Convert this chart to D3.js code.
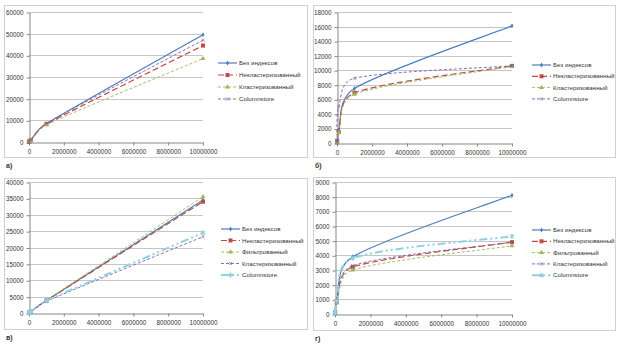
<!DOCTYPE html>
<html>
<head>
<meta charset="utf-8">
<title>chart</title>
<style>
  body { margin: 0; background: #fff; }
  text { font-family: "Liberation Sans", Arial, sans-serif; }
</style>
</head>
<body>
<script src="https://d3js.org/d3.v7.min.js"></script>
<script>
// размеры таблиц (ось X)
var sizes = [1000, 10000, 100000, 1000000, 10000000];
var xTicks = [0, 2000000, 4000000, 6000000, 8000000, 10000000];

// а)
var aBez = [50, 200, 900, 8500, 49500];
var aNonClust = [50, 200, 900, 8200, 44500];
var aClust = [40, 180, 800, 8000, 38500];
var aColumn = [60, 250, 1000, 8600, 47000];
// б)
var bBez = [100, 300, 1800, 7500, 16100];
var bNonClust = [100, 250, 1500, 6900, 10600];
var bClust = [80, 230, 1400, 6700, 10500];
var bColumn = [150, 400, 5000, 8900, 10600];
// в)
var vBez = [30, 100, 400, 3800, 34500];
var vNonClust = [30, 100, 400, 3800, 34000];
var vFilt = [30, 100, 400, 3900, 35500];
var vClust = [30, 100, 380, 3600, 23300];
var vColumn = [30, 100, 380, 3700, 24500];
// г)
var gBez = [50, 150, 1000, 3900, 8100];
var gNonClust = [50, 120, 850, 3200, 4900];
var gFilt = [40, 100, 750, 3000, 4650];
var gClust = [50, 120, 850, 3300, 4900];
var gColumn = [50, 150, 900, 3800, 5300];

var styles = {
  bez:    {name: 'Без индексов', color: '#4a7ebb', dash: null, w: 1.2, mark: 'diamond'},
  nonc:   {name: 'Некластеризованный', color: '#be4b48', dash: '6,3', w: 1.2, mark: 'square'},
  filt:   {name: 'Фильтрованный', color: '#98b954', dash: '3,2', w: 0.9, mark: 'triangle'},
  clustG: {name: 'Кластеризованный', color: '#98b954', dash: '3,2', w: 0.9, mark: 'triangle'},
  clustP: {name: 'Кластеризованный', color: '#7d60a0', dash: '3,2', w: 0.9, mark: 'cross'},
  colP:   {name: 'Columnstore', color: '#7d60a0', dash: '3,2', w: 0.9, mark: 'cross'},
  colB:   {name: 'Columnstore', color: '#8fd0e4', dash: '8,3,2,3,2,3', w: 2, mark: 'star'}
};

var panels = [
  {label: 'а)', box: [4, 5, 307, 157], x0: 29, x1: 203, yT: 12, yB: 142, yMax: 60000, yStep: 10000,
   legX: 218, legY: 63, legGap: 12,
   series: [['bez', aBez], ['nonc', aNonClust], ['clustG', aClust], ['colP', aColumn]]},
  {label: 'б)', box: [313, 5, 615, 157], x0: 337, x1: 512, yT: 12, yB: 143, yMax: 18000, yStep: 2000,
   legX: 532, legY: 65, legGap: 11.3,
   series: [['bez', bBez], ['nonc', bNonClust], ['clustG', bClust], ['colP', bColumn]]},
  {label: 'в)', box: [4, 178, 307, 329], x0: 29, x1: 203, yT: 182, yB: 313, yMax: 40000, yStep: 5000,
   legX: 221, legY: 229, legGap: 11.5,
   series: [['bez', vBez], ['nonc', vNonClust], ['filt', vFilt], ['clustP', vClust], ['colB', vColumn]]},
  {label: 'г)', box: [313, 177, 615, 330], x0: 335, x1: 512, yT: 182, yB: 314, yMax: 9000, yStep: 1000,
   legX: 532, legY: 230, legGap: 11.3,
   series: [['bez', gBez], ['nonc', gNonClust], ['filt', gFilt], ['clustP', gClust], ['colB', gColumn]]}
];

var svg = d3.select('body').append('svg')
  .attr('width', 623).attr('height', 355);

function marker(g, type, x, y, color) {
  var t = 'translate(' + x + ',' + y + ')';
  if (type === 'diamond') {
    g.append('path').attr('d', d3.symbol(d3.symbolDiamond, 7)()).attr('transform', t).attr('fill', color);
  } else if (type === 'square') {
    g.append('rect').attr('x', x - 2).attr('y', y - 2).attr('width', 4).attr('height', 4).attr('fill', color);
  } else if (type === 'triangle') {
    g.append('path').attr('d', d3.symbol(d3.symbolTriangle, 10)()).attr('transform', t).attr('fill', color);
  } else if (type === 'cross') {
    g.append('path').attr('d', d3.symbol(d3.symbolX, 8)()).attr('transform', t)
      .attr('stroke', color).attr('stroke-width', 0.7).attr('fill', 'none');
  } else if (type === 'star') {
    g.append('path').attr('d', d3.symbol(d3.symbolAsterisk, 16)()).attr('transform', t)
      .attr('stroke', color).attr('stroke-width', 1.3).attr('fill', 'none');
  }
}

// сглаживание как в Excel: касательная (P[i+1]-P[i-1])/6, ограниченная длиной отрезка
function smooth(pts) {
  var p = d3.path();
  function tan(a, b, len) {
    var dx = (b[0] - a[0]) / 6, dy = (b[1] - a[1]) / 6, m = Math.hypot(dx, dy), lim = len * 0.45;
    if (m > lim && m > 0) { dx *= lim / m; dy *= lim / m; }
    return [dx, dy];
  }
  p.moveTo(pts[0][0], pts[0][1]);
  for (var i = 0; i < pts.length - 1; i++) {
    var P0 = pts[Math.max(i - 1, 0)], P1 = pts[i], P2 = pts[i + 1], P3 = pts[Math.min(i + 2, pts.length - 1)];
    var len = Math.hypot(P2[0] - P1[0], P2[1] - P1[1]);
    var t1 = tan(P0, P2, len), t2 = tan(P1, P3, len);
    p.bezierCurveTo(P1[0] + t1[0], P1[1] + t1[1], P2[0] - t2[0], P2[1] - t2[1], P2[0], P2[1]);
  }
  return p.toString();
}

panels.forEach(function(p) {
  var g = svg.append('g');
  g.append('rect').attr('x', p.box[0] + 0.5).attr('y', p.box[1] + 0.5)
    .attr('width', p.box[2] - p.box[0]).attr('height', p.box[3] - p.box[1])
    .attr('fill', 'none').attr('stroke', '#d0d0d0');

  var x = d3.scaleLinear().domain([0, 10000000]).range([p.x0, p.x1]);
  var y = d3.scaleLinear().domain([0, p.yMax]).range([p.yB, p.yT]);
  var yTicks = d3.range(0, p.yMax + 1, p.yStep);

  // сетка
  g.selectAll('.grid').data(yTicks.slice(1)).enter().append('line')
    .attr('x1', p.x0).attr('x2', p.x1)
    .attr('y1', d => Math.round(y(d)) + 0.5).attr('y2', d => Math.round(y(d)) + 0.5)
    .attr('stroke', '#b8b8b8').attr('stroke-width', 0.8);

  var ya = g.append('g').attr('transform', 'translate(' + (p.x0 + 0.5) + ',0.5)')
    .call(d3.axisLeft(y).tickValues(yTicks).tickSize(3).tickSizeOuter(0).tickFormat(d3.format('d')));
  var xa = g.append('g').attr('transform', 'translate(0,' + (Math.round(p.yB) + 0.5) + ')')
    .call(d3.axisBottom(x).tickValues(xTicks).tickSize(3).tickSizeOuter(0).tickFormat(d3.format('d')));
  [ya, xa].forEach(function(a) {
    a.selectAll('path, line').attr('stroke', '#868686');
    a.selectAll('text').attr('font-size', 6.3).attr('fill', '#333')
      .style('font-family', '"Liberation Sans", Arial, sans-serif');
  });
  xa.selectAll('text').attr('dy', '0.9em');

  p.series.forEach(function(s, k) {
    var st = styles[s[0]];
    var pts = s[1].map((v, i) => [x(sizes[i]), y(v)]);
    g.append('path').attr('d', smooth(pts))
      .attr('fill', 'none').attr('stroke', st.color).attr('stroke-width', st.w)
      .attr('stroke-dasharray', st.dash);
    pts.forEach(function(q) { marker(g, st.mark, q[0], q[1], st.color); });

    // легенда
    var ly = p.legY + k * p.legGap;
    g.append('line').attr('x1', p.legX).attr('x2', p.legX + 19).attr('y1', ly).attr('y2', ly)
      .attr('stroke', st.color).attr('stroke-width', st.w).attr('stroke-dasharray', st.dash);
    marker(g, st.mark, p.legX + 9.5, ly, st.color);
    g.append('text').attr('x', p.legX + 21).attr('y', ly + 2).attr('font-size', 6.2)
      .attr('fill', '#333').text(st.name);
  });

  g.append('text').attr('x', p.box[0] + 2).attr('y', p.box[3] + 11)
    .attr('font-size', 7).attr('font-weight', 'bold').attr('fill', '#333').text(p.label);
});
</script>
</body>
</html>
